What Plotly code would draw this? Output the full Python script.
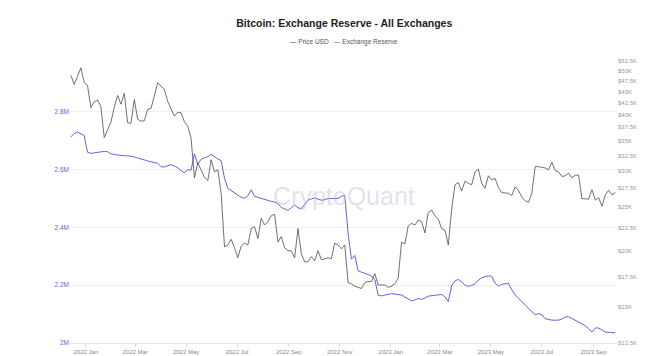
import pandas as pd
import plotly.graph_objects as go

# ---- data (sampled every 4 days, starting 2021-12-14) ----
start_date = "2021-12-14"
step_days = 4

# Bitcoin price, USD thousands
price_k = [
    48.9, 46.7, 48.6, 50.8, 47.1, 46.4, 41.5, 42.7, 43.1, 41.7,
    35.6, 37.2, 38.5, 41.6, 44.1, 42.2, 44.6, 38.4, 38.3, 43.2,
    39.1, 38.7, 38.8, 41.1, 41.3, 44.0, 47.1, 46.3, 45.5, 42.8,
    41.1, 39.7, 40.5, 40.4, 38.6, 37.7, 35.5, 29.0, 31.3, 30.3,
    29.1, 28.6, 31.8, 29.9, 30.2, 26.8, 20.4, 20.6, 21.2, 20.3,
    19.3, 20.5, 20.8, 20.6, 22.4, 22.6, 21.3, 23.6, 22.8, 23.2,
    23.9, 24.1, 20.9, 21.5, 20.3, 20.0, 20.0, 19.3, 22.4, 19.7,
    18.9, 18.9, 19.4, 19.0, 20.0, 19.1, 19.2, 19.3, 19.2, 20.8,
    20.6, 20.2, 20.6, 17.0, 16.9, 16.7, 16.6, 16.5, 17.0, 17.1,
    17.1, 17.8, 16.8, 16.8, 16.8, 16.6, 16.7, 16.9, 17.4, 20.9,
    20.7, 22.7, 23.0, 22.8, 23.4, 23.2, 21.9, 24.3, 24.6, 23.9,
    23.5, 22.4, 22.2, 20.6, 24.7, 28.0, 28.3, 27.1, 28.5, 28.2,
    28.0, 29.9, 30.3, 28.2, 27.5, 29.3, 28.7, 28.9, 27.6, 26.9,
    26.8, 26.8, 26.5, 27.7, 27.2, 26.3, 25.8, 25.6, 26.8, 30.7,
    30.7, 30.6, 30.5, 30.2, 31.4, 30.1, 29.9, 29.2, 29.3, 29.7,
    29.0, 29.4, 29.4, 26.1, 26.0, 26.0, 27.3, 25.9, 26.2, 25.1,
    26.6, 27.2, 26.6, 26.9,
]

# Exchange reserve, BTC millions
reserve_m = [
    2.713, 2.725, 2.730, 2.724, 2.718, 2.660, 2.656, 2.658, 2.660, 2.662,
    2.663, 2.662, 2.655, 2.652, 2.650, 2.649, 2.648, 2.648, 2.647, 2.644,
    2.640, 2.636, 2.633, 2.630, 2.627, 2.624, 2.622, 2.610, 2.609, 2.614,
    2.617, 2.612, 2.607, 2.596, 2.589, 2.600, 2.598, 2.655, 2.618, 2.636,
    2.640, 2.645, 2.653, 2.644, 2.637, 2.631, 2.570, 2.535, 2.527, 2.519,
    2.510, 2.504, 2.501, 2.510, 2.530, 2.507, 2.504, 2.500, 2.497, 2.494,
    2.490, 2.488, 2.482, 2.469, 2.463, 2.459, 2.468, 2.478, 2.468, 2.465,
    2.480, 2.494, 2.499, 2.502, 2.498, 2.494, 2.496, 2.500, 2.500, 2.500,
    2.500, 2.508, 2.511, 2.380, 2.290, 2.303, 2.250, 2.245, 2.242, 2.237,
    2.231, 2.220, 2.165, 2.163, 2.166, 2.168, 2.171, 2.169, 2.167, 2.166,
    2.159, 2.152, 2.146, 2.149, 2.154, 2.151, 2.155, 2.162, 2.164, 2.166,
    2.167, 2.168, 2.160, 2.143, 2.198, 2.215, 2.220, 2.212, 2.200, 2.196,
    2.199, 2.205, 2.217, 2.226, 2.230, 2.232, 2.231, 2.207, 2.197, 2.203,
    2.205, 2.206, 2.184, 2.167, 2.155, 2.143, 2.133, 2.120, 2.109, 2.097,
    2.102, 2.098, 2.084, 2.081, 2.079, 2.079, 2.079, 2.083, 2.090, 2.091,
    2.085, 2.079, 2.073, 2.067, 2.060, 2.050, 2.038, 2.052, 2.052, 2.045,
    2.038, 2.037, 2.036, 2.035,
]

dates = pd.date_range(start_date, periods=len(price_k), freq=f"{step_days}D")

reserve_ticks = [2.0, 2.2, 2.4, 2.6, 2.8, 3.0]
reserve_labels = ["2M", "2.2M", "2.4M", "2.6M", "2.8M", ""]
price_ticks = [12.5, 15, 17.5, 20, 22.5, 25, 27.5, 30, 32.5, 35, 37.5,
               40, 42.5, 45, 47.5, 50, 52.5]
price_labels = ["$12.5K", "$15K", "$17.5K", "$20K", "$22.5K", "$25K", "$27.5K",
                "$30K", "$32.5K", "$35K", "$37.5K", "$40K", "$42.5K", "$45K",
                "$47.5K", "$50K", "$52.5K"]

BLUE = "#6b5ce7"
GRAY_LINE = "#4d4d4d"
FONT = "Liberation Sans, Arial, sans-serif"

fig = go.Figure()
fig.add_trace(go.Scatter(
    x=dates, y=reserve_m, name="Exchange Reserve", mode="lines",
    line=dict(color=BLUE, width=1), yaxis="y",
))
fig.add_trace(go.Scatter(
    x=dates, y=price_k, name="Price USD", mode="lines",
    line=dict(color=GRAY_LINE, width=0.8), yaxis="y2",
))

fig.update_layout(
    width=662, height=356, autosize=False,
    margin=dict(l=70, r=45, t=54, b=13, autoexpand=False),
    paper_bgcolor="white", plot_bgcolor="white",
    font=dict(family=FONT, size=7, color="#888"),
    showlegend=False,
    title=dict(
        text="<b>Bitcoin: Exchange Reserve - All Exchanges</b>",
        x=0.52, xanchor="center", y=1 - 23 / 356, yanchor="middle",
        font=dict(family=FONT, size=10.5, color="#222"),
    ),
    xaxis=dict(
        type="date",
        range=["2021-12-13", "2023-09-29"],
        tick0="2022-01-01", dtick="M2", tickformat="%Y %b",
        showgrid=False, zeroline=False,
        showline=True, linecolor="#e6e6e6", linewidth=1,
        ticks="outside", ticklen=3, tickcolor="#dddddd",
        tickfont=dict(size=6, color="#888"),
    ),
    yaxis=dict(
        range=[2.0, 3.0],
        tickvals=reserve_ticks, ticktext=reserve_labels,
        showgrid=True, gridcolor="#f0f0f0", gridwidth=1,
        zeroline=False, showline=False,
        tickfont=dict(size=6.5, color=BLUE),
    ),
    yaxis2=dict(
        type="log", overlaying="y", side="right",
        range=[1.09691, 1.73640],
        tickvals=price_ticks, ticktext=price_labels,
        showgrid=False, zeroline=False, showline=False,
        tickfont=dict(size=6, color="#999"),
    ),
    annotations=[
        dict(
            text="CryptoQuant", xref="paper", yref="paper",
            x=0.5, y=0.51, xanchor="center", yanchor="middle",
            showarrow=False,
            font=dict(family=FONT, size=25, color="rgba(190,190,215,0.45)"),
        ),
        dict(
            text=(f"<span style='color:{GRAY_LINE}'>—</span> Price USD"
                  f"   <span style='color:{BLUE}'>—</span> Exchange Reserve"),
            xref="paper", yref="paper",
            x=0.501, y=1.0426, xanchor="center", yanchor="middle",
            showarrow=False,
            font=dict(family=FONT, size=6.5, color="#555"),
        ),
    ],
)

fig.write_html(
    "out.html",
    config={"displayModeBar": False},
    post_script="document.body.style.margin='0px';document.body.style.overflow='hidden';",
)
